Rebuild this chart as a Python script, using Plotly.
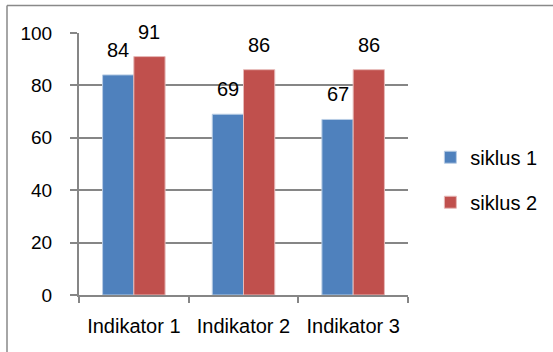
import plotly.graph_objects as go

categories = ["Indikator 1", "Indikator 2", "Indikator 3"]
siklus_1 = [84, 69, 67]
siklus_2 = [91, 86, 86]
y_ticks = [0, 20, 40, 60, 80, 100]

FONT = "Liberation Sans, Arial, sans-serif"
W, H = 553, 352
M_L, M_R, M_T, M_B = 79, 145, 33, 57
BARGAP = 0.43

plot_w = W - M_L - M_R
plot_h = H - M_T - M_B
bar_w = plot_w / len(categories) * (1 - BARGAP) / 2

fig = go.Figure()
fig.add_trace(go.Bar(
    name="siklus 1", x=categories, y=siklus_1,
    marker=dict(color="#4F81BD", line=dict(color="#B9CDE5", width=1)),
    legendgroup="a",
))
fig.add_trace(go.Bar(
    name="siklus 2", x=categories, y=siklus_2,
    marker=dict(color="#C0504D", line=dict(color="#E6B9B8", width=1)),
    legendgroup="b",
))

# value labels above each bar
annotations = []
for series, shift in ((siklus_1, -bar_w / 2), (siklus_2, bar_w / 2)):
    for cat, val in zip(categories, series):
        annotations.append(dict(
            x=cat, y=val, xref="x", yref="y", text=str(val),
            showarrow=False, xanchor="center", yanchor="bottom",
            xshift=shift, yshift=12,
            font=dict(family=FONT, size=20, color="#000000"),
        ))

# chart-area frame: top and left edges
fx0 = (7 - M_L) / plot_w
fx1 = (W + 10 - M_L) / plot_w
fy0 = (M_T + plot_h - H - 10) / plot_h
fy1 = (M_T + plot_h - 5.5) / plot_h
frame_line = dict(color="#898989", width=1.5)
shapes = [
    dict(type="line", xref="paper", yref="paper", x0=fx0, x1=fx1, y0=fy1, y1=fy1,
         line=frame_line, layer="below"),
    dict(type="line", xref="paper", yref="paper", x0=fx0, x1=fx0, y0=fy0, y1=fy1,
         line=frame_line, layer="below"),
]

fig.update_layout(
    width=W, height=H,
    margin=dict(l=M_L, r=M_R, t=M_T, b=M_B, autoexpand=False),
    paper_bgcolor="white", plot_bgcolor="white",
    barmode="group", bargap=BARGAP, bargroupgap=0,
    font=dict(family=FONT, size=19, color="#000000"),
    showlegend=True,
    legend=dict(
        x=1.068, y=0.44, xanchor="left", yanchor="middle",
        font=dict(family=FONT, size=20, color="#000000"),
        tracegroupgap=16, itemwidth=30, bgcolor="rgba(0,0,0,0)",
    ),
    annotations=annotations,
    shapes=shapes,
)
fig.update_xaxes(
    showline=True, linecolor="#868686", linewidth=2,
    ticks="outside", tickcolor="#868686", ticklen=6, tickwidth=2,
    tickson="boundaries", showgrid=False, ticklabelstandoff=12,
    tickfont=dict(family=FONT, size=20, color="#000000"),
)
fig.update_yaxes(
    range=[0, 100], tickvals=y_ticks,
    showline=True, linecolor="#868686", linewidth=2,
    ticks="outside", tickcolor="#868686", ticklen=7, tickwidth=2,
    showgrid=True, gridcolor="#868686", gridwidth=1.5,
    zeroline=False, ticklabelstandoff=14,
    tickfont=dict(family=FONT, size=19, color="#000000"),
)

fig.write_html("out.html")
